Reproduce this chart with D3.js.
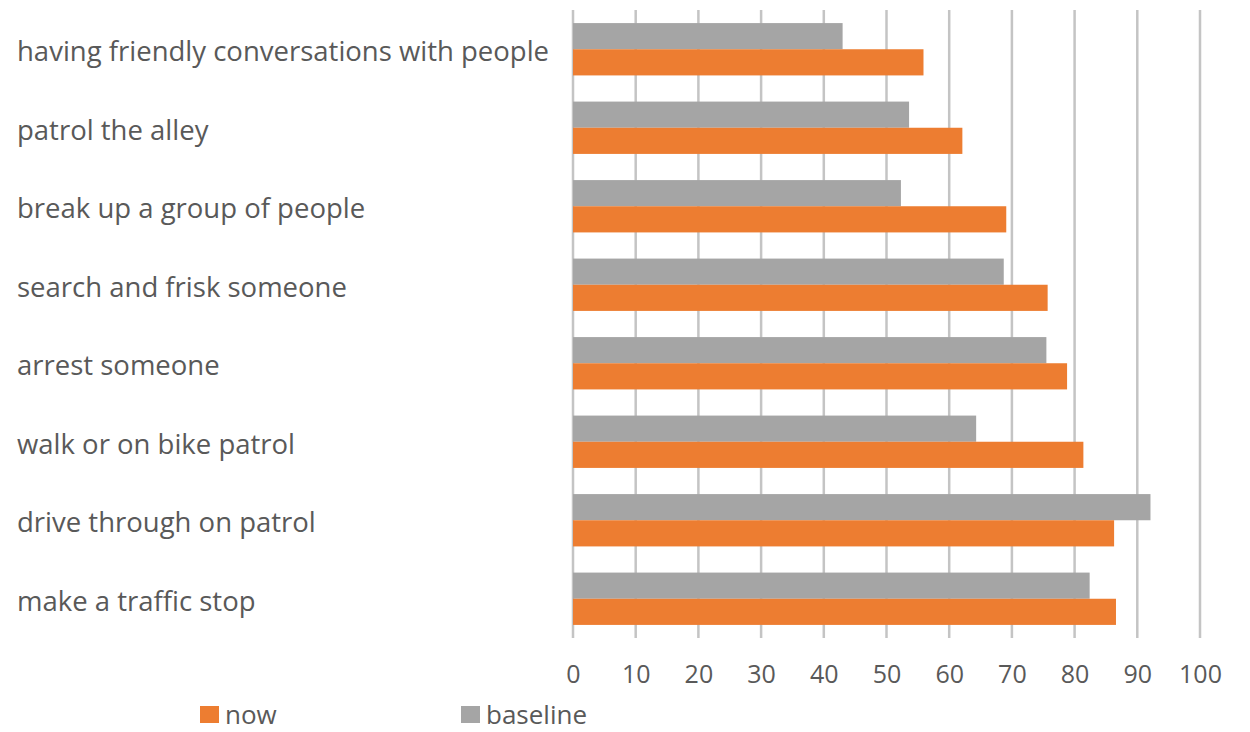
<!DOCTYPE html>
<html><head><meta charset="utf-8">
<script src="https://cdn.jsdelivr.net/npm/d3@7"></script>
<style>body{margin:0;background:#fff}svg{display:block}</style>
</head><body>
<svg id="chart" width="1250" height="732"></svg>
<script>
const categories = ["having friendly conversations with people","patrol the alley","break up a group of people","search and frisk someone","arrest someone","walk or on bike patrol","drive through on patrol","make a traffic stop"];
const nowValues = [55.9, 62.1, 69.1, 75.7, 78.8, 81.4, 86.3, 86.6];
const baselineValues = [43.0, 53.6, 52.3, 68.7, 75.5, 64.3, 92.1, 82.4];
const seriesNames = ["now", "baseline"];
const xTicks = [0,10,20,30,40,50,60,70,80,90,100];

const svg = d3.select("#chart");
const font = "'Open Sans', sans-serif";
const textColor = "#595959";
const colors = {now: "#ED7D31", baseline: "#A5A5A5"};

const x = d3.scaleLinear().domain([0,100]).range([573,1200]);
const y = d3.scaleBand().domain(categories).range([10,638]).paddingInner(1/3).paddingOuter(1/6);
const sub = d3.scaleBand().domain(["baseline","now"]).range([0, y.bandwidth()]);

// gridlines
svg.append("g").selectAll("line").data(xTicks).join("line")
  .attr("x1", d=>x(d)).attr("x2", d=>x(d)).attr("y1", 10).attr("y2", 638)
  .attr("stroke", "#C4C4C4").attr("stroke-width", 2.5);

// bars
const rows = categories.map((c,i)=>({c, now: nowValues[i], baseline: baselineValues[i]}));
const g = svg.append("g");
["baseline","now"].forEach(s=>{
  g.selectAll("rect."+s).data(rows).join("rect").attr("class", s)
    .attr("x", x(0)).attr("y", d=>y(d.c)+sub(s))
    .attr("width", d=>x(d[s])-x(0)).attr("height", sub.bandwidth())
    .attr("fill", colors[s]);
});

// category labels
svg.append("g").selectAll("text").data(categories).join("text")
  .attr("x", 17).attr("y", d=>y(d)+y.bandwidth()/2+12)
  .attr("font-family", font).attr("font-size", 27.5).attr("fill", textColor)
  .text(d=>d);

// x axis labels
const xAxis = d3.axisBottom(x).tickValues(xTicks).tickSize(0).tickPadding(0);
const ax = svg.append("g").attr("transform","translate(0,683)").call(xAxis);
ax.select(".domain").remove();
ax.selectAll("text").attr("dy", 0).attr("font-family", font).attr("font-size", 25).attr("fill", textColor);

// legend
const legend = svg.append("g");
const lx = {now: 200, baseline: 461};
seriesNames.forEach(s=>{
  legend.append("rect").attr("x", lx[s]).attr("y", 706).attr("width", 19).attr("height", 17).attr("fill", colors[s]);
  legend.append("text").attr("x", lx[s]+25).attr("y", 724)
    .attr("font-family", font).attr("font-size", 26).attr("fill", textColor).text(s);
});
</script>
</body></html>
